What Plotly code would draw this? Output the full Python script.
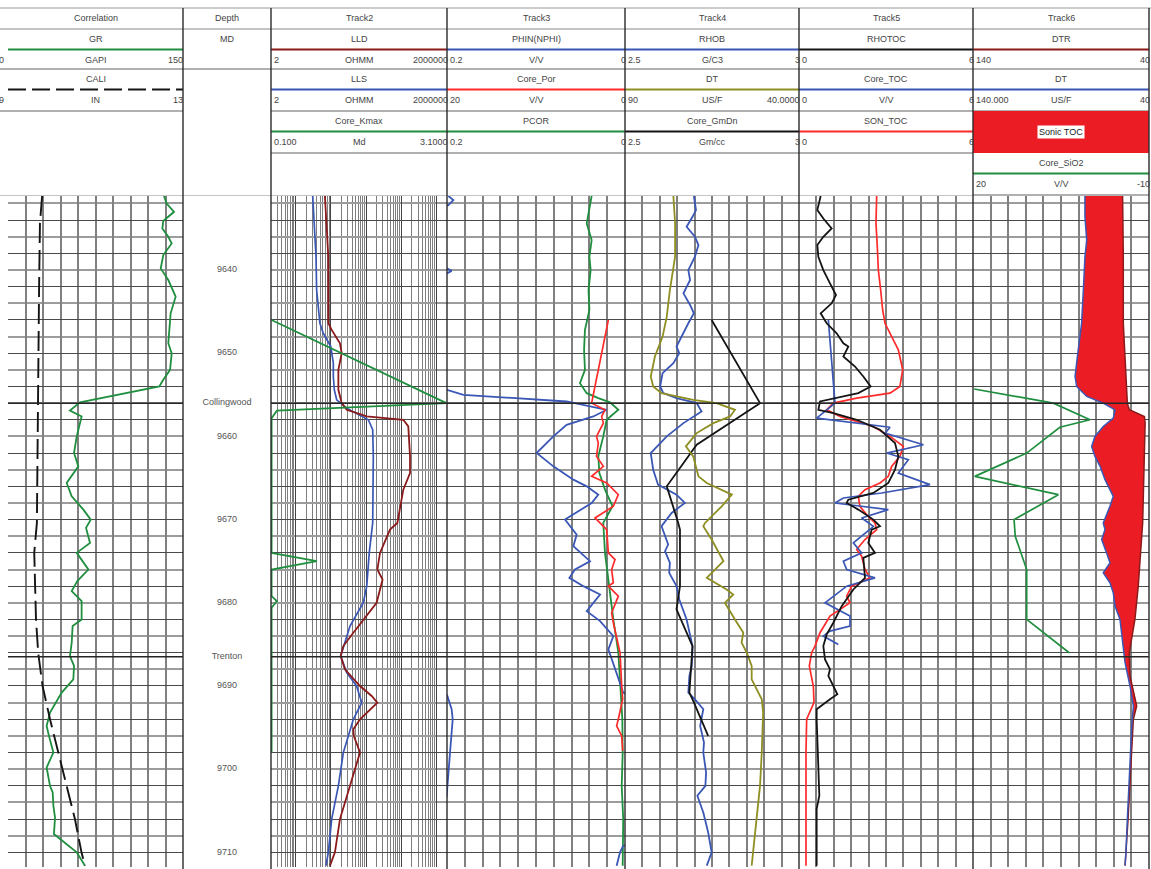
import math
import plotly.graph_objects as go

W, H = 1151, 869

# ---------------- depth reference ----------------
DEPTH_TOP, DEPTH_BASE = 9631.1, 9711.76
depth_ticks = [9640, 9650, 9660, 9670, 9680, 9690, 9700, 9710]
tops_names = ["Collingwood", "Trenton"]
tops_depths = [9656.0, 9686.5]

# ---------------- Correlation track ----------------
gr_depth = [9631.1, 9632.0, 9633.0, 9634.1, 9635.0, 9636.0, 9636.8, 9638.2, 9639.8, 9641.2,
            9643.2, 9645.2, 9647.2, 9648.8, 9650.0, 9652.0, 9653.2, 9654.0, 9655.9, 9656.9,
            9657.6, 9658.4, 9660.0, 9662.0, 9663.6, 9665.6, 9667.2, 9668.8, 9670.0, 9671.0,
            9672.8, 9674.0, 9676.0, 9677.4, 9678.6, 9679.8, 9682.0, 9682.8, 9684.8, 9686.4,
            9687.6, 9689.2, 9690.8, 9693.2, 9694.8, 9696.0, 9698.0, 9699.8, 9702.0, 9702.8,
            9704.4, 9705.8, 9707.8, 9710.0, 9711.6]
gr = [133.7, 136.0, 142.3, 133.1, 132.3, 137.4, 140.3, 133.1, 130.9, 137.4,
      143.7, 139.4, 138.3, 137.4, 140.3, 138.9, 133.1, 129.7, 61.7, 53.1,
      63.1, 61.7, 58.9, 56.6, 60.3, 50.3, 54.6, 64.6, 70.9, 66.9,
      70.3, 58.9, 68.9, 59.4, 54.6, 63.1, 63.1, 55.4, 54.6, 53.1,
      56.6, 56.0, 46.0, 36.0, 33.1, 35.1, 38.9, 33.1, 36.0, 38.3,
      38.9, 40.3, 39.4, 58.9, 66.0]

cali_depth = [9631.1, 9634.4, 9642.4, 9654.4, 9662.4, 9670.4, 9674.0, 9678.0, 9682.0,
              9686.0, 9690.0, 9694.0, 9698.0, 9702.0, 9706.0, 9710.0, 9711.6]
cali = [9.78, 9.73, 9.71, 9.69, 9.66, 9.66, 9.60, 9.62, 9.64,
        9.69, 9.79, 9.96, 10.15, 10.34, 10.53, 10.68, 10.76]

# ---------------- Track2 : resistivity + core permeability ----------------
lls_depth = [9631.1, 9634.4, 9638.4, 9642.4, 9646.4, 9647.6, 9649.2, 9651.2, 9652.8, 9654.4,
             9655.6, 9656.6, 9657.4, 9658.0, 9659.2, 9662.4, 9670.4, 9674.0, 9678.0, 9680.0,
             9682.8, 9685.2, 9686.4, 9688.4, 9690.0, 9692.0, 9694.0, 9696.0, 9698.0, 9702.0,
             9706.0, 9710.0, 9711.6]
lls = [30.6, 34, 38, 39.6, 49, 61, 100, 118, 118, 126,
       147, 283, 675, 1164, 1550, 1612, 1550, 1236, 1050, 838,
       351, 227, 191, 283, 539, 755, 437, 315, 227, 164,
       106, 85, 73]

lld_depth = [9631.1, 9634.4, 9638.4, 9642.4, 9646.4, 9647.2, 9648.8, 9650.0, 9652.0, 9654.4,
             9656.0, 9656.8, 9657.6, 9658.0, 9658.8, 9662.4, 9664.4, 9666.4, 9670.4,
             9671.2, 9674.0, 9676.0, 9677.2, 9680.0, 9682.0, 9683.6, 9685.2, 9686.4, 9688.0,
             9690.0, 9691.2, 9692.0, 9694.0, 9695.2, 9696.0, 9698.0, 9702.0, 9706.0, 9710.0,
             9711.6]
lld = [68, 76, 85, 85, 85, 106, 182, 204, 164, 164,
       204, 283, 1050, 11470, 15900, 17800, 17800, 11470, 7780,
       4800, 2500, 2100, 2960, 2000, 838, 437, 227, 191, 252,
       675, 1450, 2100, 675, 437, 450, 675, 351, 182, 131,
       95]

kmax_depth = [9646.0, 9656.0, 9656.9, 9657.8, 9674.0, 9675.0, 9676.0, 9679.2, 9679.8, 9680.6, 9698.0]
kmax = [0.11, 3.09, 0.2, 0.11, 0.11, 0.88, 0.11, 0.11, 0.2, 0.11, 0.11]

# ---------------- Track3 : porosity ----------------
phin_depth = [9631.1, 9631.6, 9632.2, 9632.8, 9639.2, 9639.8, 9640.1, 9640.4, 9641.0, 9653.6,
              9654.4, 9655.0, 9655.8, 9656.4, 9656.8, 9657.6, 9658.6, 9660.0, 9662.0, 9663.6,
              9665.2, 9666.0, 9667.0, 9668.0, 9670.0, 9671.8, 9673.2, 9675.0, 9676.0, 9677.0,
              9678.0, 9679.0, 9681.0, 9682.2, 9684.0, 9685.6, 9688.0, 9690.8, 9691.4, 9708.8,
              9709.2, 9710.0, 9711.6]
phin = [0.1985, 0.1929, 0.1985, 0.23, 0.23, 0.2, 0.1948, 0.2, 0.23, 0.23,
        0.2, 0.1816, 0.0656, 0.0375, 0.0206, 0.0356, 0.0656, 0.0805, 0.0993, 0.0805,
        0.058, 0.043, 0.030, 0.0375, 0.0674, 0.0543, 0.058, 0.0393, 0.0562, 0.0625,
        0.0468, 0.028, 0.043, 0.028, 0.0131, 0.0187, 0.0112, 0.002, -0.01, -0.01,
        0.002, 0.0056, 0.0094]
# wrapped (backup) segment of PHIN
phin_wrap_depth = [9691.0, 9691.2, 9692.8, 9694.0, 9698.0, 9703.2, 9703.4]
phin_wrap = [0.2005, 0.1996, 0.1948, 0.1936, 0.1966, 0.1996, 0.2005]

pcor_depth = [9631.1, 9632.8, 9634.4, 9636.4, 9638.4, 9640.0, 9642.4, 9644.8, 9647.2, 9649.6,
              9652.0, 9653.6, 9654.8, 9655.4, 9655.9, 9656.8, 9658.0, 9660.0, 9662.4, 9664.4,
              9666.4, 9668.4, 9670.4, 9674.0, 9678.0, 9682.0, 9686.0, 9690.0, 9694.0, 9698.0,
              9702.0, 9706.0, 9711.6]
pcor = [0.0375, 0.040, 0.043, 0.0375, 0.040, 0.0386, 0.041, 0.040, 0.045, 0.046,
        0.045, 0.0506, 0.043, 0.030, 0.0169, 0.0075, 0.0206, 0.0244, 0.030, 0.0288,
        0.0225, 0.014, 0.0244, 0.0225, 0.018, 0.0131, 0.0075, 0.0056, 0.003, 0.0026,
        0.0037, 0.002, 0.0026]

core_por_depth = [9646.0, 9656.0, 9656.8, 9657.6, 9658.4, 9659.2, 9660.0, 9660.8, 9662.4, 9663.6,
                  9664.8, 9665.6, 9667.0, 9668.4, 9669.8, 9671.2, 9674.0, 9674.8, 9676.0, 9677.6,
                  9678.0, 9679.2, 9681.2, 9682.4, 9686.0, 9690.0, 9691.6, 9694.0, 9694.8, 9696.0,
                  9697.8]
core_por = [1.87, 3.75, 2.25, 2.62, 2.43, 2.8, 3.2, 3.0, 3.2, 2.43,
            3.75, 2.06, 0.75, 1.31, 3.37, 2.06, 1.87, 1.12, 1.5, 1.31,
            1.87, 0.75, 1.5, 1.31, 0.56, 0.37, 0.26, 0.75, 0.94, 0.37,
            0.26]

# ---------------- Track4 : density / sonic ----------------
rhob_depth = [9631.1, 9632.8, 9633.6, 9634.8, 9636.0, 9637.0, 9638.4, 9640.0, 9641.2, 9642.8,
              9644.2, 9645.2, 9646.4, 9648.0, 9649.2, 9650.0, 9651.2, 9652.4, 9654.0, 9654.8,
              9655.4, 9656.0, 9657.0, 9658.4, 9660.0, 9662.0, 9664.0, 9665.8, 9667.0, 9668.0,
              9669.2, 9670.8, 9671.6, 9673.0, 9673.8, 9675.2, 9676.4, 9678.0, 9679.6, 9682.0,
              9685.2, 9687.6, 9688.8, 9690.8, 9691.6, 9692.8, 9694.8, 9696.8, 9698.0, 9700.4,
              9702.0, 9703.2, 9705.2, 9707.6, 9710.0, 9711.6]
rhob = [2.698, 2.704, 2.694, 2.677, 2.701, 2.711, 2.701, 2.682, 2.687, 2.668,
        2.687, 2.698, 2.682, 2.663, 2.648, 2.656, 2.639, 2.608, 2.601, 2.61,
        2.648, 2.706, 2.72, 2.668, 2.62, 2.574, 2.581, 2.595, 2.648, 2.672,
        2.634, 2.605, 2.612, 2.624, 2.615, 2.629, 2.627, 2.648, 2.656, 2.677,
        2.694, 2.692, 2.685, 2.682, 2.701, 2.725, 2.716, 2.727, 2.725, 2.733,
        2.731, 2.708, 2.725, 2.739, 2.749, 2.735]

dt4_depth = [9631.1, 9634.4, 9638.4, 9642.4, 9645.6, 9648.0, 9650.4, 9652.8, 9654.0, 9654.8,
             9655.6, 9656.0, 9656.8, 9657.6, 9658.4, 9659.6, 9661.2, 9662.4, 9664.8, 9665.6,
             9667.0, 9668.4, 9670.4, 9670.8, 9672.4, 9675.0, 9677.0, 9678.4, 9679.0, 9680.0,
             9682.0, 9683.6, 9684.8, 9686.0, 9687.6, 9689.2, 9691.6, 9693.2, 9698.0, 9702.0,
             9706.0, 9710.0, 9711.6]
dt4 = [76.1, 75.6, 75.6, 77.1, 78.0, 79.2, 81.4, 82.6, 81.9, 79.5,
       70.4, 63.7, 58.4, 59.8, 64.6, 69.4, 72.5, 70.4, 68.9, 66.5,
       59.3, 62.2, 67.0, 67.5, 65.1, 61.7, 66.5, 60.8, 58.9, 61.3,
       58.4, 56.0, 56.5, 55.0, 53.6, 53.6, 50.7, 50.3, 50.7, 51.2,
       52.2, 53.1, 53.6]

gmdn_depth = [9646.0, 9656.0, 9661.0, 9666.0, 9670.4, 9671.2, 9678.0, 9680.8, 9685.2, 9690.8, 9691.8, 9696.0]
gmdn = [2.749, 2.888, 2.706, 2.62, 2.653, 2.658, 2.658, 2.648, 2.694, 2.685, 2.696, 2.739]

# ---------------- Track5 : TOC ----------------
rhotoc_depth = [9631.1, 9632.8, 9633.8, 9635.0, 9636.0, 9637.0, 9638.4, 9640.0, 9641.6, 9643.0,
                9644.0, 9645.2, 9646.4, 9647.6, 9648.8, 9649.2, 9650.4, 9651.6, 9652.8, 9654.0,
                9654.8, 9655.8, 9656.8, 9657.2, 9658.0, 9659.2, 9660.8, 9662.4, 9664.0, 9665.6,
                9666.8, 9667.6, 9668.0, 9668.8, 9670.0, 9670.8, 9671.2, 9672.8, 9674.0, 9674.6,
                9677.0, 9678.4, 9680.4, 9682.4, 9683.8, 9685.2, 9686.8, 9688.0, 9688.8, 9690.0,
                9691.0, 9691.6, 9692.8, 9694.0, 9702.0, 9703.2, 9704.8, 9711.6]
rhotoc = [0.747, 0.632, 0.839, 1.126, 0.839, 0.632, 0.667, 0.839, 1.069, 1.276,
          1.126, 0.747, 0.954, 1.299, 1.529, 1.70, 1.529, 1.931, 2.218, 2.471,
          2.046, 0.724, 0.667, 1.184, 1.989, 2.793, 3.31, 3.425, 3.31, 3.08,
          2.563, 1.70, 1.644, 2.046, 2.563, 2.793, 2.506, 2.39, 2.62, 2.218,
          2.276, 1.874, 1.471, 1.184, 0.954, 0.839, 0.897, 1.069, 1.012, 1.184,
          1.322, 1.069, 0.609, 0.609, 0.667, 0.701, 0.609, 0.609]

son_toc_depth = [9631.1, 9634.4, 9637.2, 9640.0, 9642.4, 9644.8, 9646.4, 9647.6, 9649.6, 9652.0,
                 9654.0, 9654.8, 9655.4, 9656.0, 9656.8, 9657.6, 9658.8, 9660.0, 9661.2, 9662.4,
                 9663.6, 9664.8, 9665.6, 9666.4, 9667.2, 9668.4, 9669.4, 9670.4, 9671.2, 9672.4,
                 9673.6, 9674.4, 9676.0, 9677.0, 9678.0, 9679.2, 9680.0, 9681.6, 9683.6, 9685.2,
                 9686.0, 9687.6, 9690.0, 9692.0, 9694.0, 9698.0, 9711.6]
son_toc = [2.678, 2.655, 2.70, 2.736, 2.816, 2.885, 2.966, 3.138, 3.425, 3.575,
           3.48, 3.138, 1.989, 1.184, 0.954, 1.414, 2.563, 3.138, 3.598, 3.48,
           3.195, 3.08, 2.793, 2.276, 2.046, 2.10, 2.33, 2.62, 2.678, 2.276,
           1.989, 2.16, 2.276, 2.448, 1.816, 1.644, 1.759, 1.069, 0.724, 0.552,
           0.437, 0.356, 0.494, 0.517, 0.264, 0.241, 0.241]

core_toc_depth = [9646.0, 9656.0, 9657.8, 9658.4, 9658.9, 9659.6, 9661.0, 9662.0, 9662.8, 9664.4,
                  9665.8, 9666.8, 9667.4, 9668.0, 9668.8, 9669.8, 9670.8, 9671.0, 9672.8, 9674.0,
                  9675.0, 9676.0, 9677.0, 9678.0, 9680.0, 9681.6, 9682.8, 9683.4, 9684.0, 9685.0]
core_toc = [1.012, 1.241, 0.609, 1.989, 3.138, 2.966, 4.29, 3.023, 3.77, 3.425,
            4.517, 2.851, 1.529, 1.241, 3.08, 2.161, 2.563, 2.506, 1.874, 2.16,
            1.529, 1.644, 2.62, 1.644, 0.897, 1.759, 1.759, 1.069, 0.839, 1.356]

# ---------------- Track6 : sonic TOC ----------------
dt6_depth = [9631.1, 9633.6, 9636.4, 9638.4, 9642.4, 9646.4, 9650.4, 9652.8, 9654.0, 9655.2,
             9656.0, 9656.8, 9657.8, 9658.8, 9660.0, 9661.2, 9662.4, 9663.6, 9665.2, 9666.4,
             9667.2, 9668.4, 9670.4, 9671.2, 9672.4, 9674.0, 9675.2, 9676.4, 9677.6, 9678.8,
             9680.4, 9682.0, 9683.6, 9685.2, 9687.2, 9690.0, 9692.4, 9694.8, 9698.0, 9702.0,
             9706.0, 9710.0, 9711.6]
dt6 = [76.4, 76.4, 75.4, 76.4, 77.3, 78.3, 80.7, 82.0, 81.1, 75.4,
       66.0, 59.3, 60.3, 66.0, 70.7, 72.6, 70.7, 67.8, 65.0, 62.2,
       60.3, 62.2, 66.0, 65.0, 66.9, 64.1, 62.2, 66.0, 62.2, 60.3,
       59.3, 56.5, 55.5, 54.6, 53.6, 50.8, 48.9, 49.8, 50.4, 51.2,
       52.3, 53.1, 53.6]

dtr_depth = [9631.1, 9638.4, 9646.4, 9650.4, 9654.4, 9656.0, 9656.8, 9657.6, 9658.4, 9662.4,
             9666.4, 9670.4, 9674.0, 9678.0, 9682.0, 9686.0, 9688.8, 9691.2, 9692.4, 9694.0,
             9698.0, 9702.0, 9706.0, 9710.0, 9711.6]
dtr = [55.0, 54.6, 54.6, 53.6, 52.7, 52.3, 51.2, 42.6, 42.2, 42.6,
       43.2, 43.6, 44.8, 46.1, 48.0, 51.2, 50.8, 48.0, 47.0, 48.9,
       49.8, 50.6, 51.9, 53.1, 53.6]

sio2_depth = [9654.3, 9656.0, 9658.0, 9658.9, 9662.0, 9664.8, 9667.0, 9670.0, 9672.0, 9676.0, 9682.0, 9686.0]
sio2 = [19.8, 6.3, 0.05, 5.2, 10.85, 19.7, 5.45, 13.0, 12.8, 10.85, 10.85, 3.6]

# ---------------- styling ----------------
GREEN = "#1f8f3f"
DRED = "#8b1a1a"
BLUE = "#3b57b5"
RED = "#ff2b2b"
OLIVE = "#8e8e22"
BLACK = "#141414"
FILL_RED = "#ec1c24"
TXT = "#444444"
FONT = "Liberation Sans, Arial, sans-serif"
GRID_V = "#808080"
GRID_MAJ = "#4a4a4a"
GRID_MIN = "#9c9c9c"
SEP = "#b0b0b0"

# track edges (pixels) and header row boundaries (pixels)
EDGES = [8, 183, 271, 447, 625, 799, 973, 1149]
DATA_TOP, DATA_BOTTOM = 196, 867
ROW_TOPS = [29, 69, 111, 153, 195]


def px(x):
    return x / W


def py(y):
    return 1 - y / H


fig = go.Figure()


def add_curve(x, y, xa, ya, color, width=1.8, dash=None, name=None):
    fig.add_trace(go.Scatter(x=x, y=y, xaxis=xa, yaxis=ya, mode="lines", name=name,
                             line=dict(color=color, width=width, dash=dash),
                             hoverinfo="skip", showlegend=False))


# Correlation
add_curve(cali, cali_depth, "x8", "y", BLACK, 1.9, "20px,7px", "CALI")
add_curve(gr, gr_depth, "x", "y", GREEN, 1.8, None, "GR")
# Track2
add_curve(kmax, kmax_depth, "x9", "y3", GREEN, 1.8, None, "Core_Kmax")
add_curve(lls, lls_depth, "x3", "y3", BLUE, 1.7, None, "LLS")
add_curve(lld, lld_depth, "x3", "y3", DRED, 1.8, None, "LLD")
# Track3
add_curve(pcor, pcor_depth, "x4", "y4", GREEN, 1.8, None, "PCOR")
add_curve(core_por, core_por_depth, "x10", "y4", RED, 1.7, None, "Core_Por")
add_curve(phin, phin_depth, "x4", "y4", BLUE, 1.8, None, "PHIN(NPHI)")
add_curve(phin_wrap, phin_wrap_depth, "x4", "y4", BLUE, 1.8, None, "PHIN(NPHI) backup")
# Track4
add_curve(dt4, dt4_depth, "x11", "y5", OLIVE, 1.8, None, "DT")
add_curve(rhob, rhob_depth, "x5", "y5", BLUE, 1.8, None, "RHOB")
add_curve(gmdn, gmdn_depth, "x5", "y5", BLACK, 1.8, None, "Core_GmDn")
# Track5
add_curve(son_toc, son_toc_depth, "x6", "y6", RED, 1.7, None, "SON_TOC")
add_curve(core_toc, core_toc_depth, "x6", "y6", BLUE, 1.7, None, "Core_TOC")
add_curve(rhotoc, rhotoc_depth, "x6", "y6", BLACK, 1.8, None, "RHOTOC")
# Track6 : fill between DT and DTR
fig.add_trace(go.Scatter(x=dt6 + dtr[::-1], y=dt6_depth + dtr_depth[::-1], xaxis="x7", yaxis="y7",
                         mode="lines", fill="toself", fillcolor=FILL_RED, line=dict(width=0),
                         hoverinfo="skip", showlegend=False, name="Sonic TOC"))
add_curve(dtr, dtr_depth, "x7", "y7", DRED, 1.5, None, "DTR")
add_curve(dt6, dt6_depth, "x7", "y7", BLUE, 1.5, None, "DT")
add_curve(sio2, sio2_depth, "x12", "y7", GREEN, 1.7, None, "Core_SiO2")

# Depth track labels
fig.add_trace(go.Scatter(x=[0.5] * len(depth_ticks), y=depth_ticks, xaxis="x2", yaxis="y2",
                         mode="text", text=[str(d) for d in depth_ticks],
                         textfont=dict(family=FONT, size=9, color="#555555"),
                         cliponaxis=False, hoverinfo="skip", showlegend=False))
fig.add_trace(go.Scatter(x=[0.5] * len(tops_depths), y=tops_depths, xaxis="x2", yaxis="y2",
                         mode="text", text=tops_names,
                         textfont=dict(family=FONT, size=9, color="#555555"),
                         cliponaxis=False, hoverinfo="skip", showlegend=False))

# ---------------- axes ----------------
ydom = [py(DATA_BOTTOM), py(DATA_TOP)]
layout_axes = {}
main_x = {
    1: dict(range=[0, 150], dtick=15, tick0=0),
    2: dict(range=[0, 1], showgrid=False),
    3: dict(type="log", range=[math.log10(2), math.log10(200000)], dtick=1,
            gridcolor="#444444", gridwidth=1.3,
            minor=dict(dtick="D1", showgrid=True, gridcolor="#7e7e7e", gridwidth=1)),
    4: dict(range=[0.2, 0], dtick=0.02, tick0=0),
    5: dict(range=[2.5, 3.0], dtick=0.05, tick0=2.5),
    6: dict(range=[0, 6], dtick=0.6, tick0=0),
    7: dict(range=[140, 40], dtick=10, tick0=40),
}
for i in range(1, 8):
    xa = dict(domain=[px(EDGES[i - 1]), px(EDGES[i])], anchor="y" if i == 1 else f"y{i}",
              showticklabels=False, ticks="", zeroline=False, showline=False,
              showgrid=True, gridcolor=GRID_V, gridwidth=1.5, fixedrange=True)
    xa.update(main_x[i])
    layout_axes["xaxis" if i == 1 else f"xaxis{i}"] = xa
    grid_on = i != 2
    ya = dict(domain=ydom, range=[DEPTH_BASE, DEPTH_TOP], anchor="x" if i == 1 else f"x{i}",
              showticklabels=False, ticks="", zeroline=False, showline=False,
              showgrid=grid_on, dtick=4, tick0=9630, gridcolor=GRID_MAJ, gridwidth=1.4,
              minor=dict(dtick=2, tick0=9630, showgrid=grid_on, gridcolor=GRID_MIN, gridwidth=1.6),
              fixedrange=True)
    layout_axes["yaxis" if i == 1 else f"yaxis{i}"] = ya

overlays = {
    8: ("x", "y", [9, 13]),          # CALI
    9: ("x3", "y3", [0.1, 3.1]),     # Core_Kmax
    10: ("x4", "y4", [20, 0]),       # Core_Por
    11: ("x5", "y5", [90, 40]),      # DT
    12: ("x7", "y7", [20, -10]),     # Core_SiO2
}
for i, (base, anchor, rng) in overlays.items():
    layout_axes[f"xaxis{i}"] = dict(overlaying=base, anchor=anchor, range=rng, visible=False,
                                    showgrid=False, zeroline=False, fixedrange=True)

# ---------------- shapes ----------------
shapes = []


def hline(x0, x1, y, color, width, dash=None):
    shapes.append(dict(type="line", xref="paper", yref="paper", x0=px(x0), x1=px(x1),
                       y0=py(y), y1=py(y), layer="above",
                       line=dict(color=color, width=width, dash=dash)))


# formation tops across the curve tracks
for d in tops_depths:
    for i in [1, 3, 4, 5, 6, 7]:
        yref = "y" if i == 1 else f"y{i}"
        shapes.append(dict(type="line", xref="paper", yref=yref,
                           x0=px(EDGES[i - 1]), x1=px(EDGES[i]), y0=d, y1=d,
                           layer="above", line=dict(color="#262626", width=1.5)))

# header frame
hline(0, W, 8, "#9a9a9a", 1.2)
hline(0, EDGES[-1], 195.5, "#c4c4c4", 1.2)

header_tracks = [
    dict(title="Correlation", x0=8, x1=183, sep_x0=0, lab_x0=-3, rows=[
        ("GR", GREEN, None, "0", "GAPI", "150"),
        ("CALI", BLACK, "18px,6px", "9", "IN", "13")]),
    dict(title="Depth", x0=183, x1=271, sep_x0=183, lab_x0=184, rows=[
        ("MD", None, None, "", "", "")]),
    dict(title="Track2", x0=271, x1=447, sep_x0=271, lab_x0=272, rows=[
        ("LLD", DRED, None, "2", "OHMM", "2000000"),
        ("LLS", BLUE, None, "2", "OHMM", "2000000"),
        ("Core_Kmax", GREEN, None, "0.100", "Md", "3.1000")]),
    dict(title="Track3", x0=447, x1=625, sep_x0=447, lab_x0=448, rows=[
        ("PHIN(NPHI)", BLUE, None, "0.2", "V/V", "0"),
        ("Core_Por", RED, None, "20", "V/V", "0"),
        ("PCOR", GREEN, None, "0.2", "", "0")]),
    dict(title="Track4", x0=625, x1=799, sep_x0=625, lab_x0=626, rows=[
        ("RHOB", BLUE, None, "2.5", "G/C3", "3"),
        ("DT", OLIVE, None, "90", "US/F", "40.0000"),
        ("Core_GmDn", BLACK, None, "2.5", "Gm/cc", "3")]),
    dict(title="Track5", x0=799, x1=973, sep_x0=799, lab_x0=800, rows=[
        ("RHOTOC", BLACK, None, "0", "", "6"),
        ("Core_TOC", BLUE, None, "0", "V/V", "6"),
        ("SON_TOC", RED, None, "0", "", "6")]),
    dict(title="Track6", x0=973, x1=1149, sep_x0=973, lab_x0=974, rows=[
        ("DTR", DRED, None, "140", "", "40"),
        ("DT", BLUE, None, "140.000", "US/F", "40"),
        ("Sonic TOC", "fill", None, "", "", ""),
        ("Core_SiO2", GREEN, None, "20", "V/V", "-10")]),
]

annotations = []


def text(x, y, s, anchor="center", size=9, color=TXT, bg=None):
    a = dict(xref="paper", yref="paper", x=px(x), y=py(y), text=s, showarrow=False,
             xanchor=anchor, yanchor="middle", font=dict(family=FONT, size=size, color=color))
    if bg:
        a.update(bgcolor=bg, borderpad=1)
    annotations.append(a)


for t in header_tracks:
    x0, x1 = t["x0"], t["x1"]
    cx = (x0 + x1) / 2
    text(cx, 18.5, t["title"])
    hline(t["sep_x0"], x1, 29, SEP, 1.6)
    for k, (name, color, dash, left, unit, right) in enumerate(t["rows"]):
        top, bottom = ROW_TOPS[k], ROW_TOPS[k + 1]
        if color == "fill":
            shapes.append(dict(type="rect", xref="paper", yref="paper", x0=px(x0), x1=px(x1),
                               y0=py(bottom), y1=py(top), fillcolor=FILL_RED,
                               line=dict(width=0), layer="above"))
            text(cx, (top + bottom) / 2, name, color="#222222", bg="white")
            continue
        text(cx, top + 10.25, name)
        if color is not None:
            hline(x0, x1, top + 20.5, color, 2.2, dash)
        if left:
            text(t["lab_x0"], top + 31, left, anchor="left")
        if unit:
            text(cx, top + 31, unit)
        if right:
            text(x1 + 2.5, top + 31, right, anchor="right")
        hline(t["sep_x0"], x1, bottom, SEP, 2.0)

# track boundaries
for x in EDGES[1:]:
    shapes.append(dict(type="line", xref="paper", yref="paper", x0=px(x), x1=px(x),
                       y0=py(8), y1=py(H), layer="above", line=dict(color="#2a2a2a", width=1.4)))

fig.update_layout(
    width=W, height=H, margin=dict(l=0, r=0, t=0, b=0),
    paper_bgcolor="white", plot_bgcolor="white",
    showlegend=False, shapes=shapes, annotations=annotations,
    **layout_axes,
)

fig.write_html("out.html")
